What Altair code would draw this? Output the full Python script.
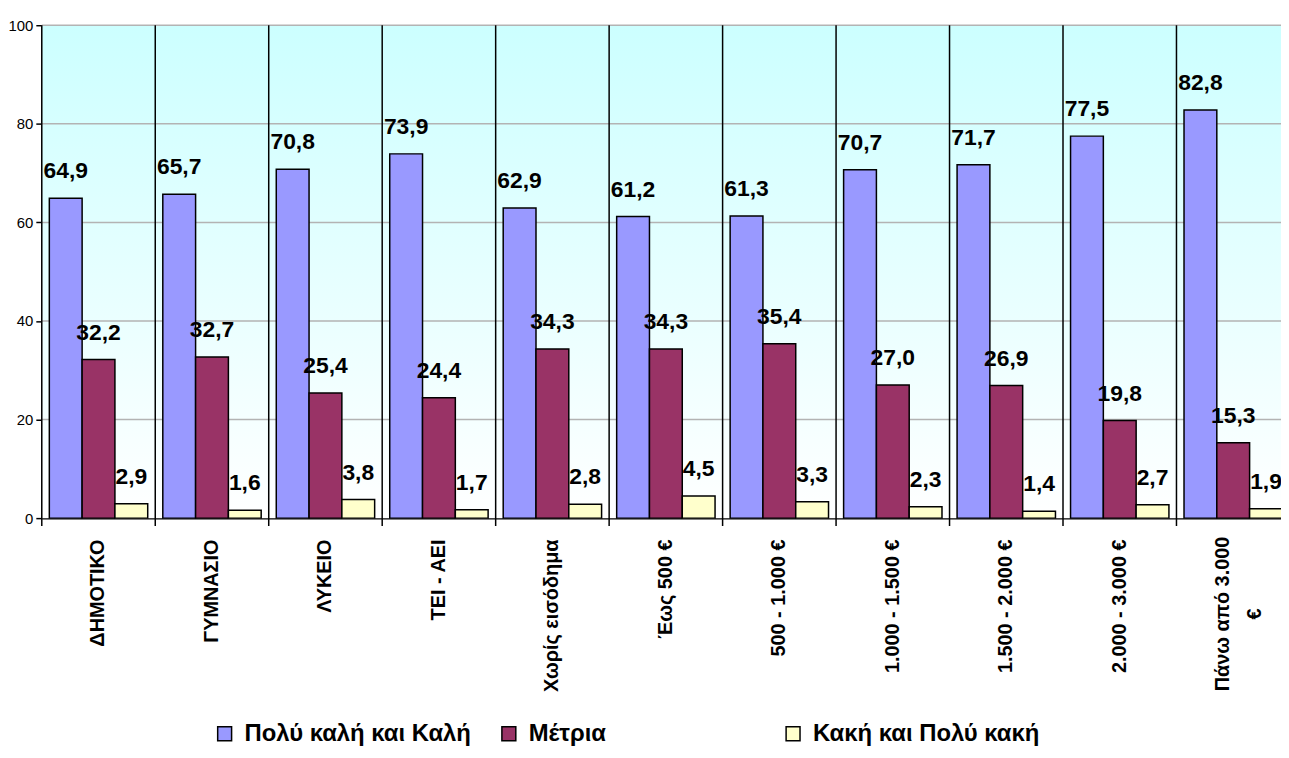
import altair as alt
import pandas as pd

categories = ["ΔΗΜΟΤΙΚΟ", "ΓΥΜΝΑΣΙΟ", "ΛΥΚΕΙΟ", "ΤΕΙ - ΑΕΙ", "Χωρίς εισόδημα",
              "Έως 500 €", "500 - 1.000 €", "1.000 - 1.500 €", "1.500 - 2.000 €",
              "2.000 - 3.000 €", "Πάνω από 3.000|€"]
series = ["Πολύ καλή και Καλή", "Μέτρια", "Κακή και Πολύ κακή"]
good = [64.9, 65.7, 70.8, 73.9, 62.9, 61.2, 61.3, 70.7, 71.7, 77.5, 82.8]
medium = [32.2, 32.7, 25.4, 24.4, 34.3, 34.3, 35.4, 27.0, 26.9, 19.8, 15.3]
bad = [2.9, 1.6, 3.8, 1.7, 2.8, 4.5, 3.3, 2.3, 1.4, 2.7, 1.9]
colors = ["#9999FF", "#993366", "#FFFFCC"]

rows = []
for s, vals in zip(series, [good, medium, bad]):
    for c, v in zip(categories, vals):
        rows.append({"cat": c, "series": s, "value": v,
                     "label": f"{v:.1f}".replace(".", ",")})
df = pd.DataFrame(rows)

W, H = 1247, 496
RANGE = 1256
FONT = "Liberation Sans"

xscale = alt.Scale(domain=categories, range=[0, RANGE], paddingInner=0, paddingOuter=0)
xoff = alt.Scale(domain=series, paddingInner=0, paddingOuter=0.23)
yscale = alt.Scale(domain=[0, 100], nice=False)

wrapped = "indexof(datum.value, '|') >= 0"
xaxis = alt.Axis(labelAngle=-90, labelExpr="split(datum.label, '|')",
                 labelFont=FONT, labelFontSize=20, labelFontWeight="bold",
                 labelColor="black",
                 labelAlign={"condition": {"test": wrapped, "value": "center"}, "value": "right"},
                 labelPadding={"condition": {"test": wrapped, "value": 96}, "value": 21},
                 labelOffset={"condition": {"test": wrapped, "value": -10}, "value": 0},
                 ticks=False, tickSize=0,
                 domainColor="black", domainWidth=2, labelLineHeight=32,
                 labelLimit=300, grid=False, title=None)
yaxis = alt.Axis(values=[0, 20, 40, 60, 80, 100], grid=False, title=None,
                 labelFont=FONT, labelFontSize=15, labelColor="black",
                 tickColor="black", tickSize=6, tickWidth=1.5,
                 domainColor="black", domainWidth=2, labelPadding=3)

bg = alt.Chart(pd.DataFrame({"a": [0]})).mark_rect(
    color=alt.LinearGradient(
        gradient="linear", x1=0, y1=0, x2=0, y2=1,
        stops=[alt.GradientStop(color="#CCFFFF", offset=0),
               alt.GradientStop(color="#FFFFFF", offset=1)])
).encode(x=alt.value(0), x2=alt.value(RANGE), y=alt.value(0), y2=alt.value(H))

grid = alt.Chart(pd.DataFrame({"g": [20, 40, 60, 80, 100]})).mark_rule(
    color="#b3b3b3", strokeWidth=1.5
).encode(y=alt.Y("g:Q", scale=yscale, axis=yaxis), x=alt.value(0), x2=alt.value(RANGE))

seps = alt.Chart(pd.DataFrame({"cat": categories})).mark_rule(
    color="black", strokeWidth=1.5
).encode(x=alt.X("cat:N", scale=xscale, sort=categories, bandPosition=0, axis=xaxis),
         y=alt.value(0), y2=alt.value(H + 8))

bars = alt.Chart(df).mark_bar(stroke="black", strokeWidth=1.5).encode(
    x=alt.X("cat:N", scale=xscale, sort=categories, axis=xaxis),
    xOffset=alt.XOffset("series:N", scale=xoff, sort=series),
    y=alt.Y("value:Q", scale=yscale, axis=yaxis),
    color=alt.Color("series:N", sort=series,
                    scale=alt.Scale(domain=series, range=colors),
                    legend=alt.Legend(title=None, orient="none", direction="horizontal",
                                      legendX=172, legendY=701, columns=3,
                                      gridAlign="all", columnPadding=26,
                                      symbolType="square", symbolSize=196,
                                      symbolStrokeColor="black", symbolStrokeWidth=1.5,
                                      labelFont=FONT, labelFontSize=24,
                                      labelFontWeight="bold", labelColor="black",
                                      labelOffset=8, labelLimit=400)),
)

labels = alt.Chart(df).mark_text(
    font=FONT, fontSize=23, fontWeight="bold", color="black",
    baseline="alphabetic", align="center", dy=-20
).encode(
    x=alt.X("cat:N", scale=xscale, sort=categories, axis=xaxis),
    xOffset=alt.XOffset("series:N", scale=xoff, sort=series),
    y=alt.Y("value:Q", scale=yscale, axis=yaxis),
    text="label:N",
)

chart = alt.layer(bg, grid, seps, bars, labels).properties(
    width=W, height=H,
    padding={"left": 34, "top": 15, "right": 0, "bottom": 231},
    autosize=alt.AutoSizeParams(type="none"),
).configure_view(stroke=None)

chart.save("out.html", embed_options={"renderer": "svg", "actions": False})
